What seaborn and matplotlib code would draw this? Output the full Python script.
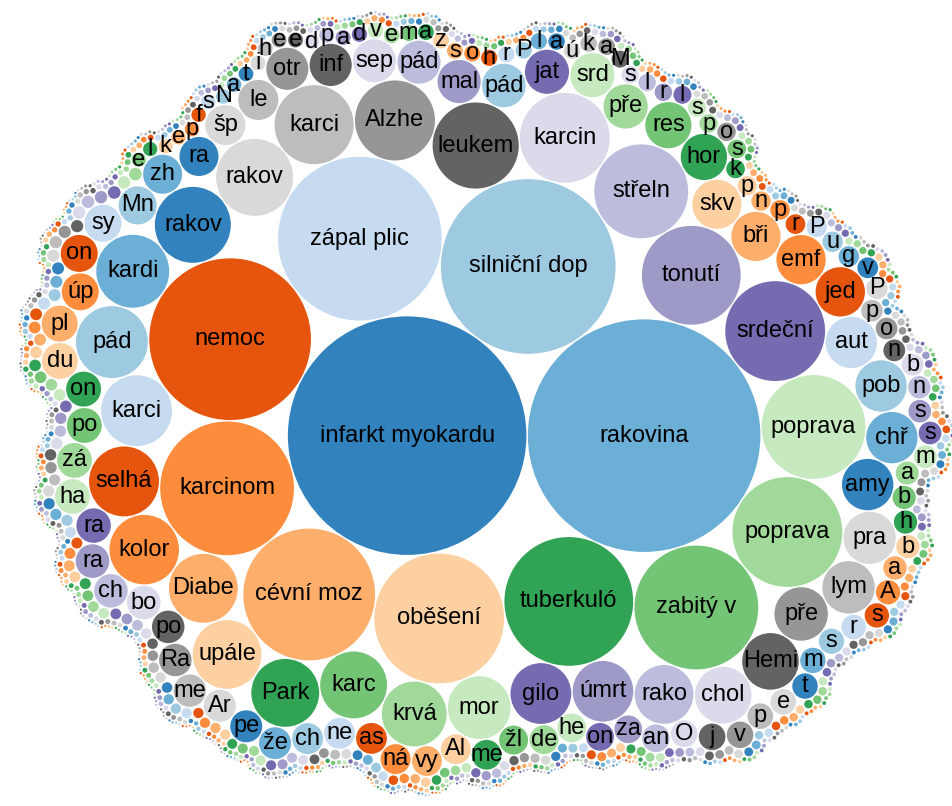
import math
import numpy as np
import pandas as pd
import seaborn as sns
import matplotlib
matplotlib.use('Agg')
import matplotlib.pyplot as plt
from matplotlib.patches import Circle
from matplotlib.collections import PatchCollection

# 표시되는 라벨(원 크기에 맞춰 잘린 상태 그대로)
labels = ["infarkt myokardu", "rakovina", "silniční dop", "zápal plic", "nemoc", "karcinom", "cévní moz", "oběšení", "tuberkuló", "zabitý v",
          "poprava", "poprava", "srdeční", "tonutí", "střeln", "karcin", "leukem", "Alzhe", "karci", "rakov",
          "rakov", "kardi", "pád", "karci", "selhá", "kolor", "Diabe", "upále", "Park", "karc",
          "krvá", "mor", "gilo", "úmrt", "rako", "chol", "Hemi", "pře", "lym", "pra",
          "amy", "chř", "pob", "aut", "jed", "emf", "bři", "skv", "hor", "res",
          "pře", "srd", "jat", "pád", "mal", "pád", "sep", "inf", "otr", "le", "šp",
          "ra", "zh", "Mn", "sy", "on", "úp", "pl", "du", "on", "po",
          "zá", "ha", "ra", "ra", "ch", "bo", "po", "Ra", "me", "Ar",
          "pe", "že", "ch", "ne", "as", "ná", "vy", "Al", "me", "žl",
          "de", "he", "on", "za", "an", "O", "j", "v", "p", "e",
          "t", "m", "s", "r", "s", "A", "a", "b", "h", "b",
          "a", "m", "s", "s", "n", "b", "n", "o", "p", "P",
          "v", "g", "u", "P", "r", "p", "n", "p", "k", "s", "o",
          "p", "s", "l", "r", "l", "s", "M", "a", "k", "ú",
          "a", "l", "P", "r", "h", "o", "s", "z", "a", "m",
          "e", "v", "d", "a", "p", "d", "e", "e", "h", "i",
          "t", "a", "N", "s", "f", "p", "e", "k", "l", "e"]

counts = [11802, 11217, 6328, 5557, 5422, 3710, 3600, 3492, 3438, 3177,
          2500, 2235, 2066, 2025, 1826, 1674, 1538, 1328, 1295, 1229,
          1197, 1103, 1073, 1042, 1014, 1001, 984, 979, 955, 927,
          871, 818, 766, 762, 716, 667, 664, 593, 569, 567,
          548, 547, 546, 545, 505, 504, 502, 501, 443, 442,
          405, 404, 403, 394, 386, 385, 384, 368, 367, 333, 332,
          316, 315, 300, 284, 283, 282, 268, 267, 253, 252,
          251, 249, 246, 234, 233, 232, 219, 218, 217, 213,
          212, 211, 199, 198, 197, 186, 185, 184, 183, 173,
          172, 171, 160, 159, 158, 148, 147, 146, 136, 135,
          134, 133, 132, 125, 123, 122, 114, 113, 112, 111,
          110, 108, 107, 106, 104, 99, 98, 97, 96, 95,
          89, 87, 86, 85, 80, 79, 78, 76, 72, 71, 71,
          69, 68, 67, 64, 62, 61, 60, 59, 58, 57,
          56, 55, 55, 54, 54, 53, 53, 52, 52, 51,
          51, 48, 48, 47, 47, 46, 46, 46, 45, 45,
          45, 44, 44, 44, 43, 43, 42, 42, 42, 41]

# 같은 이름(같은 색)을 가진 원: 위치 -> 먼저 나온 위치
same_name = {53: 22, 131: 58}

# 라벨이 없는 작은 원들: (값, 개수)
tail_counts = [(33, 3), (32, 3), (31, 4), (30, 4), (29, 4), (28, 5), (27, 5), (26, 5),
               (25, 6), (24, 6), (23, 6), (22, 7), (21, 7), (20, 8), (19, 9), (18, 9),
               (17, 10), (16, 11), (15, 12), (14, 13), (13, 15), (12, 16), (11, 18), (10, 21),
               (9, 25), (8, 30), (7, 38), (6, 44), (5, 65), (4, 100), (3, 145), (2, 215), (1, 340)]

values = list(counts)
names = list(labels)
for v, n in tail_counts:
    values += [v] * n
    names += [''] * n


# d3 v3 pack 레이아웃 (front-chain)
def pack(radii):
    n = len(radii)
    xs = [0.0] * n
    ys = [0.0] * n
    rs = list(radii)
    nxt = list(range(n))
    prv = list(range(n))
    bb = [math.inf, -math.inf, math.inf, -math.inf]

    def bound(i):
        bb[0] = min(bb[0], xs[i] - rs[i])
        bb[1] = max(bb[1], xs[i] + rs[i])
        bb[2] = min(bb[2], ys[i] - rs[i])
        bb[3] = max(bb[3], ys[i] + rs[i])

    def place(a, b, c):
        db = rs[a] + rs[c]
        dx = xs[b] - xs[a]
        dy = ys[b] - ys[a]
        if db and (dx or dy):
            da = rs[b] + rs[c]
            dc = dx * dx + dy * dy
            da *= da
            db *= db
            x = 0.5 + (db - da) / (2 * dc)
            y = math.sqrt(max(0.0, 2 * da * (db + dc) - (db - dc) ** 2 - da * da)) / (2 * dc)
            xs[c] = xs[a] + x * dx + y * dy
            ys[c] = ys[a] + x * dy - y * dx
        else:
            xs[c] = xs[a] + db
            ys[c] = ys[a]

    def hit(a, b):
        dx = xs[b] - xs[a]
        dy = ys[b] - ys[a]
        dr = rs[a] + rs[b]
        return 0.999 * dr * dr > dx * dx + dy * dy

    def insert(a, b):
        c = nxt[a]
        nxt[a] = b
        prv[b] = a
        nxt[b] = c
        prv[c] = b

    def splice(a, b):
        nxt[a] = b
        prv[b] = a

    a, b = 0, 1
    xs[0], ys[0] = -rs[0], 0.0
    bound(0)
    xs[1], ys[1] = rs[1], 0.0
    bound(1)
    place(a, b, 2)
    bound(2)
    insert(a, 2)
    prv[a] = 2
    insert(2, b)
    b = nxt[a]

    i = 3
    while i < n:
        c = i
        place(a, b, c)
        isect = False
        s1 = s2 = 1
        j = nxt[b]
        while j != b:
            if hit(j, c):
                isect = True
                break
            j = nxt[j]
            s1 += 1
        if isect:
            k = prv[a]
            while k != prv[j]:
                if hit(k, c):
                    break
                k = prv[k]
                s2 += 1
            if s1 < s2 or (s1 == s2 and rs[b] < rs[a]):
                b = j
                splice(a, b)
            else:
                a = k
                splice(a, b)
        else:
            insert(a, c)
            b = c
            bound(c)
            i += 1

    cx = (bb[0] + bb[1]) / 2
    cy = (bb[2] + bb[3]) / 2
    return np.array(xs) - cx, np.array(ys) - cy, bb[1] - bb[0]


r0 = np.sqrt(np.array(values, dtype=float))
blob_w = 938
_, _, w0 = pack(r0)
pad = 0.75 * w0 / blob_w
xs, ys, w1 = pack(r0 + pad)
k = blob_w / w1

bubbles = pd.DataFrame({'name': names, 'value': values})
bubbles['x'] = 487 + k * xs
bubbles['y'] = 403.5 + k * ys
bubbles['r'] = k * r0

sns.set_theme(style='white')
plt.rcParams['font.family'] = ['Liberation Sans', 'DejaVu Sans']
palette = sns.color_palette('tab20c', 20)

# 이름 순서대로 category20c 색을 돌려 쓴다
colors = []
ci = 0
for i in range(len(bubbles)):
    if i in same_name:
        colors.append(colors[same_name[i]])
    else:
        colors.append(palette[ci % 20])
        ci += 1

fig = plt.figure(figsize=(9.53, 8.06), dpi=100)
ax = fig.add_axes([0, 0, 1, 1])
circles = [Circle((x, y), r) for x, y, r in zip(bubbles['x'], bubbles['y'], bubbles['r'])]
ax.add_collection(PatchCollection(circles, facecolors=colors, edgecolors='none'))

for _, row in bubbles[bubbles['name'] != ''].iterrows():
    ax.text(row['x'], row['y'], row['name'], ha='center', va='center',
            fontsize=17, color='black')

ax.set_xlim(0, 953)
ax.set_ylim(806, 0)
ax.set_aspect('equal')
ax.axis('off')
fig.savefig('out.png', dpi=100)
